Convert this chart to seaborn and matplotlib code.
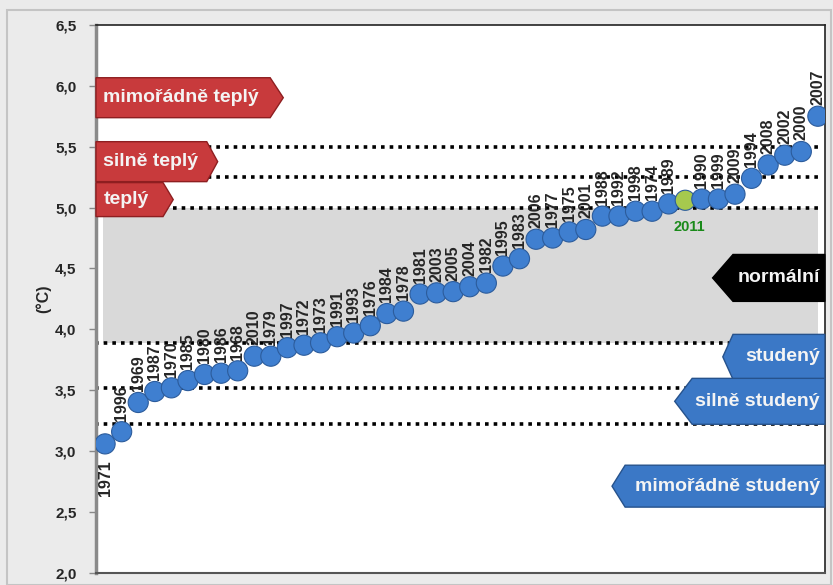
import matplotlib
matplotlib.use('Agg')
from matplotlib import pyplot as plt
from matplotlib.patches import Polygon, Rectangle
import pandas as pd
import seaborn as sns

# years sorted by mean temperature (°C)
years = [1971, 1996, 1969, 1987, 1970, 1985, 1980, 1986, 1968, 2010,
         1979, 1997, 1972, 1973, 1991, 1993, 1976, 1984, 1978, 1981,
         2003, 2005, 2004, 1982, 1995, 1983, 2006, 1977, 1975, 2001,
         1988, 1992, 1998, 1974, 1989, 2011, 1990, 1999, 2009, 1994,
         2008, 2002, 2000, 2007]
temps = [3.06, 3.16, 3.40, 3.49, 3.52, 3.58, 3.63, 3.64, 3.66, 3.78,
         3.78, 3.85, 3.87, 3.89, 3.94, 3.97, 4.03, 4.13, 4.15, 4.29,
         4.30, 4.31, 4.35, 4.38, 4.52, 4.58, 4.74, 4.75, 4.80, 4.82,
         4.93, 4.93, 4.97, 4.97, 5.03, 5.06, 5.07, 5.07, 5.11, 5.24,
         5.35, 5.43, 5.46, 5.75]
highlight_year = 2011

# category limits
thresholds = [5.5, 5.25, 5.0, 3.89, 3.52, 3.22]
normal_band = (3.89, 5.0)

warm_labels = ['mimořádně teplý', 'silně teplý', 'teplý']
cold_labels = ['normální', 'studený', 'silně studený', 'mimořádně studený']

yticks = [2.0, 2.5, 3.0, 3.5, 4.0, 4.5, 5.0, 5.5, 6.0, 6.5]

df = pd.DataFrame({'year': years, 'temp': temps})
df['pos'] = range(len(df))
df['kind'] = ['hl' if y == highlight_year else 'std' for y in df['year']]

sns.set_style('white')
plt.rcParams['font.family'] = ['Liberation Sans', 'DejaVu Sans']
plt.rcParams['font.weight'] = 'bold'

fig = plt.figure(figsize=(8.33, 5.85), dpi=100, facecolor='#ebebeb')
fig.patches.append(Rectangle((0.008, 0.0), 0.99, 0.983, transform=fig.transFigure,
                             facecolor='none', edgecolor='#c4c4c4', lw=1.5))
ax = fig.add_axes([0.1152, 0.0205, 0.875, 0.937])
ax.set_facecolor('white')

xmax = len(df) - 1
ax.fill_between([-0.1, xmax], normal_band[0], normal_band[1],
                color='#d9d9d9', lw=0, zorder=0)
for t in thresholds:
    ax.plot([-0.6, xmax], [t, t], color='black', lw=2.6,
            ls=(0, (1.0, 1.4)), zorder=1)

sns.scatterplot(data=df, x='pos', y='temp', hue='kind',
                palette={'std': '#3f7fd0', 'hl': '#a6c94e'},
                edgecolor='#2c5c9c', linewidth=0.8, s=210,
                legend=False, zorder=4, ax=ax)

for _, r in df.iterrows():
    if r['year'] == highlight_year:
        ax.annotate(str(r['year']), (r['pos'], r['temp']), xytext=(3, -14),
                    textcoords='offset points', ha='center', va='top',
                    fontsize=10.5, fontweight='bold', color='#1a8a1a', zorder=6)
    elif r['pos'] == 0:
        ax.annotate(str(r['year']), (r['pos'], r['temp']), xytext=(0, -12),
                    textcoords='offset points', ha='center', va='top',
                    rotation=90, fontsize=11.5, fontweight='bold', zorder=6)
    else:
        ax.annotate(str(r['year']), (r['pos'], r['temp']), xytext=(0, 8),
                    textcoords='offset points', ha='center', va='bottom',
                    rotation=90, fontsize=11.5, fontweight='bold', zorder=6)

# arrow-shaped category tags: x in axes fraction, y in data units
tr = ax.get_yaxis_transform()
warm_boxes = [(0.239, 0.257, 5.738, 6.066),
              (0.152, 0.167, 5.213, 5.541),
              (0.092, 0.106, 4.926, 5.205)]
for lab, (x1, xt, y0, y1) in zip(warm_labels, warm_boxes):
    yc = (y0 + y1) / 2
    ax.add_patch(Polygon([(0, y0), (x1, y0), (xt, yc), (x1, y1), (0, y1)],
                         closed=True, transform=tr, facecolor='#c83a3c',
                         edgecolor='#8e1e20', lw=1, zorder=7, clip_on=False))
    ax.text(0.010, yc, lab, transform=tr, ha='left', va='center',
            color='#f4f4f4', fontsize=14, fontweight='bold', zorder=8)

cold_boxes = [(0.874, 0.846, 4.230, 4.615, '#000000', '#000000'),
              (0.874, 0.860, 3.590, 3.959, '#3b78c6', '#26528c'),
              (0.818, 0.794, 3.221, 3.598, '#3b78c6', '#26528c'),
              (0.726, 0.708, 2.541, 2.885, '#3b78c6', '#26528c')]
for lab, (x1, xt, y0, y1, fc, ec) in zip(cold_labels, cold_boxes):
    yc = (y0 + y1) / 2
    ax.add_patch(Polygon([(1, y0), (x1, y0), (xt, yc), (x1, y1), (1, y1)],
                         closed=True, transform=tr, facecolor=fc,
                         edgecolor=ec, lw=1, zorder=7, clip_on=False))
    ax.text(0.993, yc, lab, transform=tr, ha='right', va='center',
            color='#f4f4f4', fontsize=14, fontweight='bold', zorder=8)

ax.set_xlim(-0.55, xmax + 0.42)
ax.set_ylim(2.0, 6.5)
ax.set_xticks([])
ax.set_yticks(yticks)
ax.set_yticklabels([f'{v:.1f}'.replace('.', ',') for v in yticks],
                   fontsize=11, fontweight='bold')
ax.tick_params(axis='y', direction='out', length=5, width=1, color='#888888', pad=9, left=True)
ax.set_xlabel('')
ax.set_ylabel('(°C)', fontsize=11.5, fontweight='bold', labelpad=3)

ax.spines['left'].set_color('#8a8a8a')
ax.spines['left'].set_linewidth(2.5)
ax.spines['bottom'].set_color('#555555')
ax.spines['bottom'].set_linewidth(1.5)
for s in ['top', 'right']:
    ax.spines[s].set_color('#222222')
    ax.spines[s].set_linewidth(1.2)

fig.savefig('out.png', dpi=100, facecolor=fig.get_facecolor())
